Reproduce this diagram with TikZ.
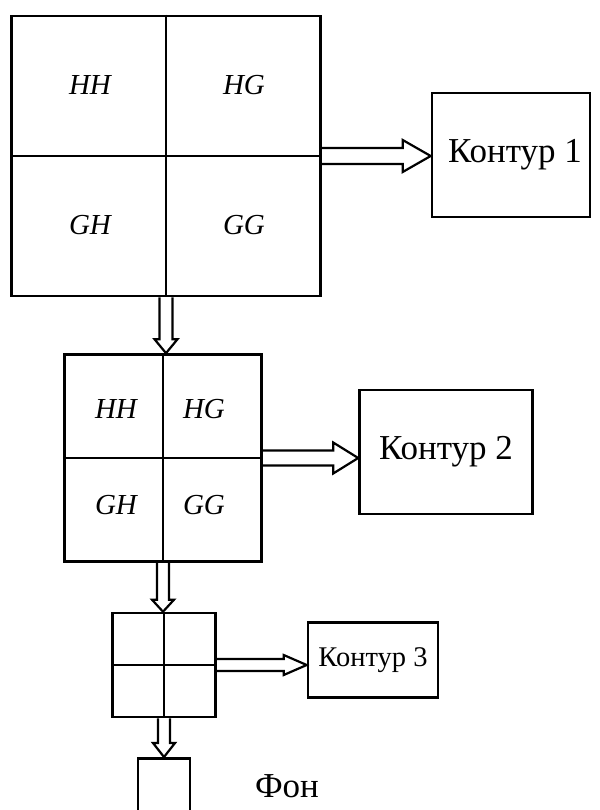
\documentclass[tikz,border=0pt]{standalone}
\usepackage{fontspec}
\setmainfont{Liberation Serif}
\usetikzlibrary{calc}
\tikzset{
  cellgrid/.style={rectangle,draw,line width=2.6pt,inner sep=0pt},
  contour/.style ={rectangle,draw,line width=2.6pt,inner sep=0pt,
                   font=\fontsize{35}{38}\selectfont},
  cellname/.style={inner sep=0pt,font=\itshape\fontsize{29}{32}\selectfont},
  hollow/.style  ={line width=2.2pt,line join=miter},
}
% hollow arrow to the right: source, target, half shaft, half head, head length
\newcommand\harr[5]{%
  \draw[hollow] let \p1=(#1), \p2=(#2.west |- #1) in
    (\x1,\y1+#3) -- (\x2-#5,\y1+#3) -- (\x2-#5,\y1+#4) -- (\x2,\y1)
    -- (\x2-#5,\y1-#4) -- (\x2-#5,\y1-#3) -- (\x1,\y1-#3);}
% hollow arrow downwards
\newcommand\varr[5]{%
  \draw[hollow] let \p1=(#1), \p2=(#1 |- #2.north) in
    (\x1-#3,\y1) -- (\x1-#3,\y2+#5) -- (\x1-#4,\y2+#5) -- (\x2,\y2)
    -- (\x1+#4,\y2+#5) -- (\x1+#3,\y2+#5) -- (\x1+#3,\y1);}

\begin{document}
\begin{tikzpicture}[x=1pt,y=-1pt]
  \useasboundingbox (0,0) rectangle (599,810);

  % first level
  \node[cellgrid,minimum width=309pt,minimum height=280pt] (g1) at (166,156) {};
  \draw[line width=2.6pt] (g1.north) -- (g1.south) (g1.west) -- (g1.east);
  \node[cellname] (hh1) at (90,85) {HH};
  \node[cellname] (hg1) at (244,85) {HG};
  \node[cellname] (gh1) at (90,225) {GH};
  \node[cellname] (gg1) at (244,225) {GG};
  \node[contour,minimum width=158pt,minimum height=124pt] (k1) at (511,155) {\hspace*{8pt}Контур 1};

  % second level
  \node[cellgrid,minimum width=197pt,minimum height=207pt] (g2) at (163,458) {};
  \draw[line width=2.6pt] (g2.north) -- (g2.south) (g2.west) -- (g2.east);
  \node[cellname] (hh2) at (116,409) {HH};
  \node[cellname] (hg2) at (204,409) {HG};
  \node[cellname] (gh2) at (116,505) {GH};
  \node[cellname] (gg2) at (204,505) {GG};
  \node[contour,minimum width=173pt,minimum height=124pt] (k2) at (446,452) {Контур 2};

  % third level
  \node[cellgrid,minimum width=103pt,minimum height=104pt] (g3) at (164,665) {};
  \draw[line width=2.6pt] (g3.north) -- (g3.south) (g3.west) -- (g3.east);
  \node[contour,minimum width=130pt,minimum height=75pt,
        font=\fontsize{28.5}{31}\selectfont] (k3) at (373,660) {Контур 3};

  % background
  \node[cellgrid,minimum width=52pt,minimum height=80pt,anchor=north] (bg) at (164,757) {};
  \node[inner sep=0pt,font=\fontsize{35}{38}\selectfont] (fon) at (287,786) {Фон};

  \harr{g1.east}{k1}{8}{16}{28}
  \harr{g2.east}{k2}{7.5}{15.5}{25}
  \harr{g3.east}{k3}{6}{10}{23}
  \varr{g1.south}{g2}{6.5}{11.5}{14}
  \varr{g2.south}{g3}{6}{11}{12}
  \varr{g3.south}{bg}{6}{11}{14}
\end{tikzpicture}
\end{document}
